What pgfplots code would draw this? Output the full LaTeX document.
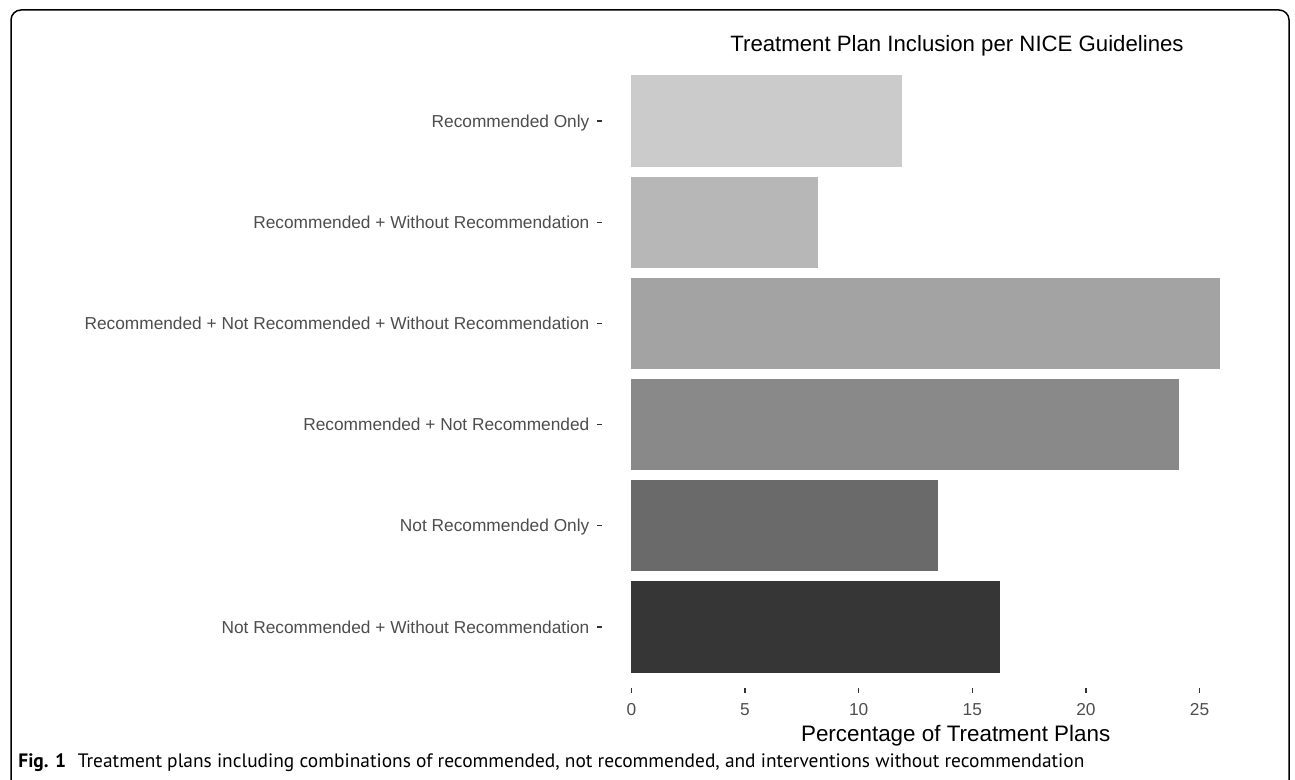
\documentclass[border=0pt]{standalone}
\usepackage{pgfplots}
\pgfplotsset{compat=1.18}
\usepackage{fontspec}
\setmainfont{Liberation Sans}
\newfontfamily\capfont{PT Sans}

\definecolor{g1}{HTML}{CBCBCB}
\definecolor{g2}{HTML}{B7B7B7}
\definecolor{g3}{HTML}{A3A3A3}
\definecolor{g4}{HTML}{898989}
\definecolor{g5}{HTML}{6A6A6A}
\definecolor{g6}{HTML}{363636}
\definecolor{tickgrey}{HTML}{4D4D4D}

\begin{document}
\begin{tikzpicture}
\useasboundingbox (0,0) rectangle (647.5pt,390pt);
\clip (0,0) rectangle (647.5pt,390pt);
% frame round the figure
\draw[line width=0.75pt, rounded corners=5pt] (5.5pt,-10pt) -- (5.5pt,385pt) -- (644.5pt,385pt) -- (644.5pt,-10pt);

\begin{axis}[
at={(300.9pt,46.15pt)}, anchor=south west,
scale only axis,
width=323.9pt, height=313.7pt,
xmin=-1.3, xmax=27.2,
ymin=0.4, ymax=6.6,
axis line style={draw=none},
xtick={0,5,10,15,20,25},
ytick={1,2,3,4,5,6},
yticklabels={Not Recommended + Without Recommendation,
Not Recommended Only,
Recommended + Not Recommended,
Recommended + Not Recommended + Without Recommendation,
Recommended + Without Recommendation,
Recommended Only},
xtick pos=bottom, ytick pos=left,
tick align=outside,
major tick length=2.5pt,
tick style={color=black!80, line width=0.6pt},
/pgf/number format/assume math mode=true,
xticklabel style={anchor=base, yshift=-11.5pt, inner sep=0pt,
  font=\fontsize{8.65}{10}\selectfont, text=tickgrey},
yticklabel style={anchor=base east, xshift=-3.5pt, yshift=-3.1pt, inner sep=0pt,
  font=\fontsize{8.65}{10}\selectfont, text=tickgrey},
xlabel={Percentage of Treatment Plans},
xlabel style={at={(axis description cs:0.5,0)}, anchor=base, xshift=15pt, yshift=-27pt,
  inner sep=0pt, font=\fontsize{11.2}{13}\selectfont},
]
\addplot[xbar, bar width=0.9, bar shift=0pt, fill=g1, draw=none] coordinates {(11.9,6)};
\addplot[xbar, bar width=0.9, bar shift=0pt, fill=g2, draw=none] coordinates {(8.2,5)};
\addplot[xbar, bar width=0.9, bar shift=0pt, fill=g3, draw=none] coordinates {(25.9,4)};
\addplot[xbar, bar width=0.9, bar shift=0pt, fill=g4, draw=none] coordinates {(24.1,3)};
\addplot[xbar, bar width=0.9, bar shift=0pt, fill=g5, draw=none] coordinates {(13.5,2)};
\addplot[xbar, bar width=0.9, bar shift=0pt, fill=g6, draw=none] coordinates {(16.2,1)};
\end{axis}

% title
\node[anchor=base, inner sep=0pt, font=\fontsize{11.1}{13}\selectfont] at (478.5pt,364pt)
  {Treatment Plan Inclusion per NICE Guidelines};
% caption
\node[anchor=base west, inner sep=0pt] at (9pt,6pt)
  {\resizebox{533pt}{!}{\capfont\textbf{Fig. 1}\hspace{0.6em}Treatment plans including combinations of recommended, not recommended, and interventions without recommendation}};
\end{tikzpicture}
\end{document}
